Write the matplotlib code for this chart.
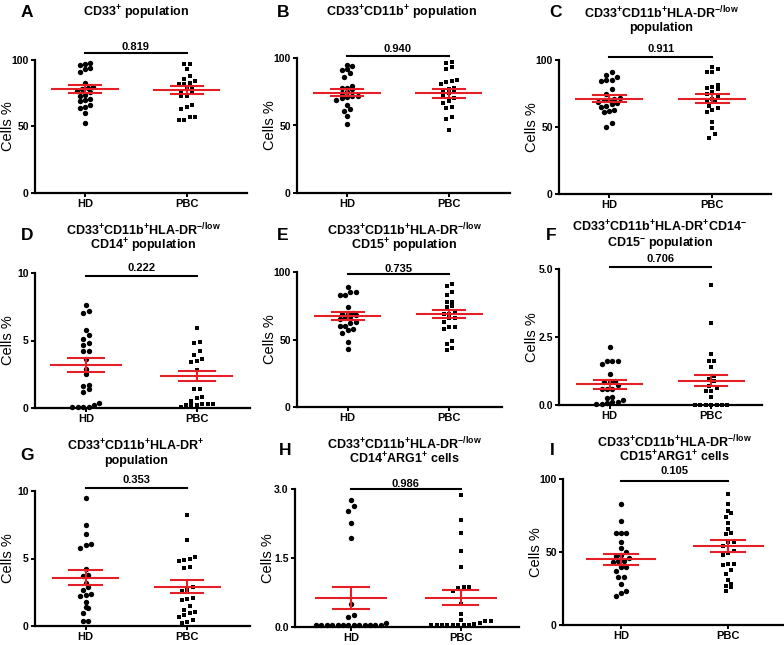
import numpy as np
import matplotlib
matplotlib.use("Agg")
import matplotlib.pyplot as plt

plt.rcParams['font.family'] = ['Liberation Sans', 'DejaVu Sans']
plt.rcParams['mathtext.fontset'] = 'custom'
plt.rcParams['mathtext.rm'] = 'Liberation Sans:bold'
plt.rcParams['mathtext.bf'] = 'Liberation Sans:bold'
plt.rcParams['mathtext.it'] = 'Liberation Sans:bold'

# -----------------------------------------------------------
# Data
# -----------------------------------------------------------
groups = ["HD", "PBC"]
letters = ["A", "B", "C", "D", "E", "F", "G", "H", "I"]

dr_low = r"CD33$^{+}$CD11b$^{+}$HLA-DR$^{\mathrm{-/low}}$"
titles = [
    [r"CD33$^{+}$ population"],
    [r"CD33$^{+}$CD11b$^{+}$ population"],
    [dr_low, "population"],
    [dr_low, r"CD14$^{+}$ population"],
    [dr_low, r"CD15$^{+}$ population"],
    [r"CD33$^{+}$CD11b$^{+}$HLA-DR$^{+}$CD14$^{-}$", r"CD15$^{-}$ population"],
    [r"CD33$^{+}$CD11b$^{+}$HLA-DR$^{+}$", "population"],
    [dr_low, r"CD14$^{+}$ARG1$^{+}$ cells"],
    [dr_low, r"CD15$^{+}$ARG1$^{+}$ cells"],
]
p_values = ["0.819", "0.940", "0.911", "0.222", "0.735", "0.706", "0.353", "0.986", "0.105"]

hd_values = [
    [98, 97, 96, 94, 93, 91, 83, 80, 79, 78, 77, 76, 74, 73, 71, 70, 69, 66, 65, 64, 60, 53],
    [95, 94, 92, 91, 89, 86, 79, 78, 78, 77, 75, 74, 72, 72, 71, 70, 69, 65, 62, 61, 57, 51],
    [91, 89, 87, 85, 85, 84, 78, 75, 72, 71, 70, 70, 69, 68, 67, 66, 65, 63, 62, 61, 53, 50],
    [7.6, 7.2, 7.0, 5.8, 5.4, 5.1, 4.8, 4.7, 4.2, 4.2, 3.6, 2.9, 2.5, 1.7, 1.6, 1.4, 1.2,
     0.4, 0.2, 0.1, 0.1, 0.1, 0.1],
    [89, 85, 85, 83, 83, 74, 70, 69, 69, 68, 67, 66, 65, 63, 62, 60, 60, 58, 57, 55, 48, 43],
    [2.15, 1.63, 1.62, 1.6, 1.5, 1.13, 0.87, 0.86, 0.86, 0.72, 0.6, 0.58, 0.57, 0.3, 0.27,
     0.2, 0.12, 0.1, 0.06, 0.03, 0.02],
    [9.5, 7.5, 6.8, 6.1, 6.0, 5.8, 4.2, 3.8, 3.7, 3.2, 2.9, 2.7, 2.4, 2.3, 2.2, 1.8, 1.4,
     1.3, 1.0, 0.4, 0.4],
    [2.77, 2.62, 2.53, 2.26, 1.93, 0.51, 0.26, 0.22, 0.09, 0.05, 0.05, 0.05, 0.05,
     0.05, 0.05, 0.05, 0.05, 0.05, 0.05, 0.05, 0.05, 0.05],
    [83, 71, 63, 63, 63, 57, 53, 50, 48, 47, 46, 44, 44, 43, 40, 40, 37, 33, 33, 28, 23, 22, 20],
]
pbc_values = [
    [97, 97, 93, 88, 86, 84, 83, 82, 82, 80, 78, 77, 75, 73, 73, 66, 65, 63, 57, 57, 55, 55],
    [97, 96, 93, 92, 84, 83, 82, 81, 78, 77, 76, 75, 74, 72, 70, 68, 67, 64, 63, 56, 55, 47],
    [95, 93, 91, 91, 81, 80, 79, 78, 76, 75, 73, 71, 70, 69, 66, 64, 63, 61, 54, 49, 45, 42],
    [5.9, 4.9, 4.8, 4.2, 3.9, 3.6, 3.5, 3.4, 2.8, 1.4, 1.4, 0.8, 0.75, 0.5, 0.3, 0.3, 0.3,
     0.2, 0.2, 0.2, 0.1],
    [91, 90, 85, 83, 78, 78, 75, 74, 71, 69, 69, 66, 66, 63, 59, 59, 58, 49, 47, 44, 42],
    [4.42, 3.03, 1.87, 1.62, 1.6, 1.38, 1.05, 0.95, 0.88, 0.71, 0.64, 0.52, 0.5, 0.3,
     0.0, 0.0, 0.0, 0.0, 0.0, 0.0, 0.0],
    [8.2, 6.4, 5.1, 5.0, 4.9, 4.8, 4.4, 4.3, 2.9, 2.7, 2.6, 2.1, 2.0, 1.9, 1.5, 1.2, 1.05,
     1.0, 0.8, 0.7, 0.45, 0.3, 0.25],
    [2.88, 2.32, 2.04, 1.66, 1.3, 0.86, 0.86, 0.84, 0.79, 0.51, 0.29, 0.16, 0.13, 0.13,
     0.09, 0.07, 0.05, 0.04, 0.04, 0.04, 0.04, 0.04, 0.04, 0.04],
    [90, 83, 78, 77, 74, 70, 66, 63, 62, 57, 57, 54, 51, 49, 48, 42, 42, 41, 38, 35, 31, 28,
     27, 26, 23],
]
# mean and SEM as drawn in red (HD, PBC)
means = [(78.1, 77.1), (74.4, 73.9), (71.2, 71.0), (3.18, 2.36), (67.2, 68.9),
         (0.76, 0.90), (3.58, 2.91), (0.64, 0.64), (45.1, 54.2)]
sems = [(3.0, 3.0), (2.6, 3.2), (2.35, 3.3), (0.54, 0.38), (3.0, 3.0),
        (0.155, 0.21), (0.55, 0.48), (0.24, 0.17), (3.75, 4.1)]
# height of the comparison bar (data units)
bar_heights = [105.5, 101.7, 102.5, 9.75, 98.5, 5.07, 10.2, 2.99, 98.4]

y_limits = [100, 100, 100, 10, 100, 5, 10, 3, 100]
y_ticks = [[0, 50, 100]] * 3 + [[0, 5, 10], [0, 50, 100], [0, 2.5, 5.0],
                                [0, 5, 10], [0, 1.5, 3.0], [0, 50, 100]]
y_fmt = ["%d", "%d", "%d", "%d", "%d", "%.1f", "%d", "%.1f", "%d"]

# -----------------------------------------------------------
# Layout (pixels of a 784x645 image)
# -----------------------------------------------------------
W, H = 784, 645
axes_px = [(35, 60, 247, 193), (297, 58, 510, 193), (559, 60, 771, 194),
           (35, 273, 250, 408), (297, 272, 502, 407), (559, 269, 762, 405),
           (35, 491, 250, 626), (295, 489, 519, 627), (563, 479, 784, 625)]
x_limits = [(-0.49, 1.59), (-0.49, 1.6), (-0.485, 1.57), (-0.46, 1.48), (-0.5, 1.52),
            (-0.5, 1.5), (-0.5, 1.62), (-0.51, 1.53), (-0.54, 1.52)]
title_pos = [(136, [17]), (402, [17]), (661, [18, 31]), (143, [235, 250]),
             (404, [235, 250]), (660, [232, 247]), (136, [451, 464]),
             (404, [449, 464]), (674, [447, 462])]
p_base = [50, 52, 52, 271, 272, 262, 483, 487, 474]
letter_pos = [(27, 17), (283, 17), (556, 17), (27, 240), (283, 240), (551, 240),
              (27, 460), (285, 455), (552, 455)]

RED = "#e41f26"


def fx(x):
    return x / W


def fy(y):
    return 1 - y / H


def scatter_x(ax, xc, vals, bin_px=5.0, gap_px=5.4):
    # GraphPad-like column scatter: points falling in the same y bin are set side by side
    vals = np.asarray(vals, dtype=float)
    pix = ax.transData.transform(np.column_stack([np.full(len(vals), xc), vals]))
    ys = pix[:, 1]
    unit = ax.transData.transform((1, 0))[0] - ax.transData.transform((0, 0))[0]
    offs = np.zeros(len(vals))
    order = np.argsort(ys, kind="stable")
    i = 0
    while i < len(order):
        j = i
        while j + 1 < len(order) and ys[order[j + 1]] - ys[order[i]] < bin_px:
            j += 1
        idx = order[i:j + 1]
        n = len(idx)
        pos = (np.arange(n) - (n - 1) / 2) * gap_px
        offs[idx] = pos / unit
        i = j + 1
    return xc + offs


fig = plt.figure(figsize=(W / 100, H / 100), dpi=100)

for k in range(9):
    l, t, r, b = axes_px[k]
    ax = fig.add_axes([fx(l), fy(b), (r - l) / W, (b - t) / H])
    ax.set_xlim(*x_limits[k])
    ax.set_ylim(0, y_limits[k])
    for side in ["top", "right"]:
        ax.spines[side].set_visible(False)
    for side in ["left", "bottom"]:
        ax.spines[side].set_linewidth(1.6)
    ax.set_yticks(y_ticks[k])
    ax.set_yticklabels([y_fmt[k] % v for v in y_ticks[k]], fontweight="bold", fontsize=7.5)
    ax.set_xticks([0, 1])
    ax.set_xticklabels(groups, fontweight="bold", fontsize=8)
    ax.tick_params(axis="both", width=1.4, length=3, pad=1.5)
    ax.set_ylabel("Cells %", fontsize=10.5)
    ax.yaxis.set_label_coords(-20 / (r - l), 0.5)

    # points
    for g, vals, mk, sz in [(0, hd_values[k], "o", 15), (1, pbc_values[k], "s", 12)]:
        xs = scatter_x(ax, g, vals)
        ax.scatter(xs, vals, s=sz, marker=mk, color="black", linewidths=0,
                   clip_on=False, zorder=3)

    # mean +/- SEM
    for g in range(2):
        m, s = means[k][g], sems[k][g]
        ax.plot([g - 0.32, g + 0.32], [m, m], color=RED, lw=1.5, zorder=4)
        ax.plot([g - 0.16, g + 0.16], [m + s, m + s], color=RED, lw=1.5, zorder=4)
        ax.plot([g - 0.16, g + 0.16], [m - s, m - s], color=RED, lw=1.5, zorder=4)
        ax.plot([g, g], [m - s, m + s], color=RED, lw=1.5, zorder=4)

    # comparison bar
    ax.plot([0, 1], [bar_heights[k]] * 2, color="black", lw=1.5, clip_on=False)
    xm = ax.transData.transform((0.5, 0))[0]
    fig.text(xm / W, fy(p_base[k]), p_values[k], ha="center", va="baseline",
             fontsize=8, fontweight="bold")

    # titles and panel letters
    cx, ys_ = title_pos[k]
    for line, yb in zip(titles[k], ys_):
        fig.text(fx(cx), fy(yb), line, ha="center", va="baseline",
                 fontsize=9, fontweight="bold")
    lx, ly = letter_pos[k]
    fig.text(fx(lx), fy(ly), letters[k], ha="center", va="baseline",
             fontsize=12.5, fontweight="bold")

fig.savefig("out.png", dpi=100)
